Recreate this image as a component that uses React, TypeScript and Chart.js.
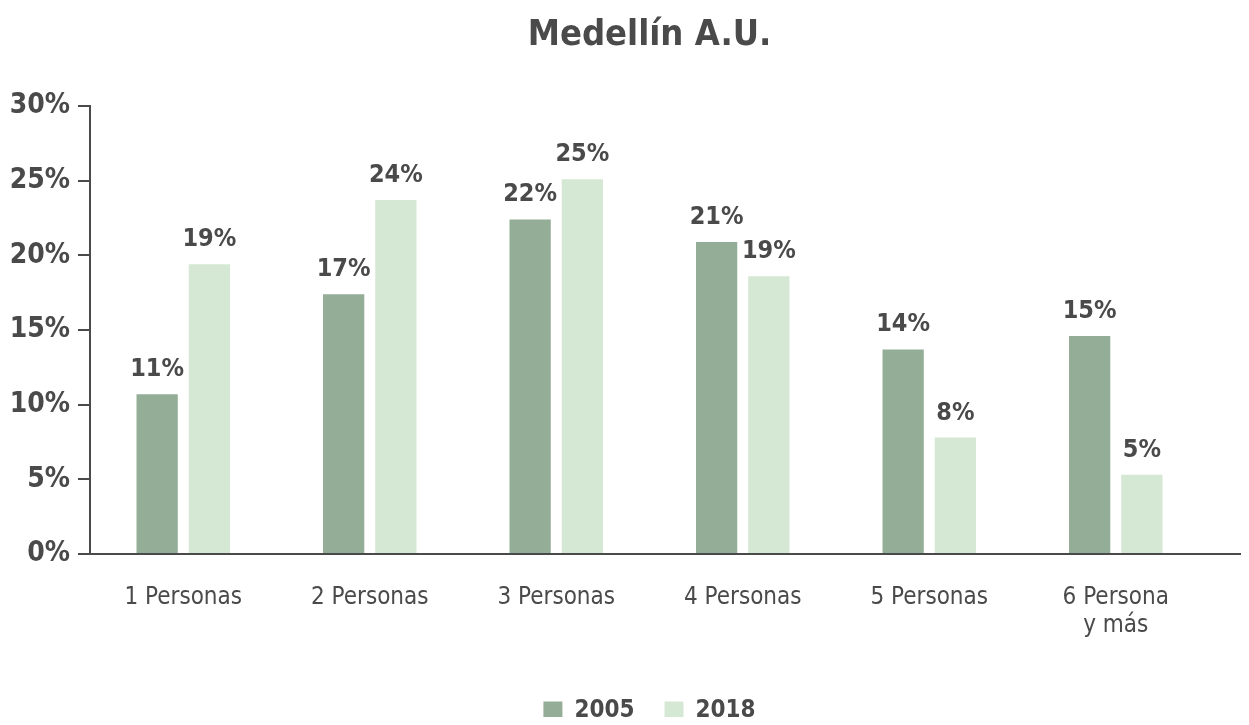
import React, { useEffect, useRef } from "react";
import { Chart, registerables } from "chart.js";

Chart.register(...registerables);

const categories: (string | string[])[] = [
  "1 Personas",
  "2 Personas",
  "3 Personas",
  "4 Personas",
  "5 Personas",
  ["6 Persona", "y más"],
];
const series2005 = [10.7, 17.4, 22.4, 20.9, 13.7, 14.6];
const series2018 = [19.4, 23.7, 25.1, 18.6, 7.8, 5.3];
const seriesNames = ["2005", "2018"];
const yTicks = [0, 5, 10, 15, 20, 25, 30];

const FONT = "'Liberation Sans Narrow', 'DejaVu Sans Condensed', 'Roboto', sans-serif";
const TEXT = "#4a4a4a";

const valueLabels = {
  id: "valueLabels",
  afterDatasetsDraw(chart: any) {
    const ctx = chart.ctx;
    ctx.save();
    ctx.font = `bold 25px ${FONT}`;
    ctx.fillStyle = TEXT;
    ctx.textAlign = "center";
    ctx.textBaseline = "alphabetic";
    chart.data.datasets.forEach((ds: any, i: number) => {
      const meta = chart.getDatasetMeta(i);
      meta.data.forEach((bar: any, j: number) => {
        ctx.fillText(Math.round(ds.data[j]) + "%", bar.x, bar.y - 18);
      });
    });
    ctx.restore();
  },
};

const baselineExtend = {
  id: "baselineExtend",
  afterDraw(chart: any) {
    const ctx = chart.ctx;
    const y = chart.scales.y.getPixelForValue(0);
    ctx.save();
    ctx.strokeStyle = TEXT;
    ctx.lineWidth = 2;
    ctx.beginPath();
    ctx.moveTo(chart.chartArea.left, y);
    ctx.lineTo(chart.width, y);
    ctx.stroke();
    ctx.restore();
  },
};

export default function App() {
  const ref = useRef<HTMLCanvasElement | null>(null);
  useEffect(() => {
    if (!ref.current) return;
    const chart = new Chart(ref.current, {
      type: "bar",
      data: {
        labels: categories,
        datasets: [
          {
            label: seriesNames[0],
            data: series2005,
            backgroundColor: "#94ad96",
            categoryPercentage: 0.56,
            barPercentage: 0.79,
          },
          {
            label: seriesNames[1],
            data: series2018,
            backgroundColor: "#d5e8d4",
            categoryPercentage: 0.56,
            barPercentage: 0.79,
          },
        ],
      },
      options: {
        animation: false,
        responsive: true,
        maintainAspectRatio: false,
        layout: { padding: { left: 0, right: 32, top: 0, bottom: -8 } },
        plugins: {
          title: {
            display: true,
            text: "Medellín A.U.",
            fullSize: false,
            color: TEXT,
            font: { family: FONT, size: 36, weight: "bold" },
            padding: { top: 6, bottom: 48.8 },
          },
          legend: {
            position: "bottom",
            fullSize: false,
            labels: {
              color: TEXT,
              font: { family: FONT, size: 24, weight: "bold" },
              boxWidth: 19,
              boxHeight: 19,
              padding: 30,
            },
          },
          tooltip: { enabled: false },
        },
        scales: {
          x: {
            afterFit: (axis: any) => {
              axis.height = 115;
            },
            grid: { display: false, drawTicks: false },
            border: { display: true, color: TEXT, width: 2 },
            ticks: {
              color: TEXT,
              font: { family: FONT, size: 24, lineHeight: 1.2 },
              padding: 29,
              maxRotation: 0,
              autoSkip: false,
            },
          },
          y: {
            min: 0,
            max: 30,
            afterFit: (axis: any) => {
              axis.width = 82;
            },
            afterBuildTicks: (axis: any) => {
              axis.ticks = yTicks.map((v) => ({ value: v }));
            },
            grid: {
              drawOnChartArea: false,
              drawTicks: true,
              tickLength: 12,
              color: TEXT,
              lineWidth: 2,
            },
            border: { display: true, color: TEXT, width: 2 },
            ticks: {
              color: TEXT,
              font: { family: FONT, size: 28, weight: "bold" },
              padding: 8,
              callback: (v: any) => v + "%",
            },
          },
        },
      },
      plugins: [valueLabels, baselineExtend],
    });
    return () => chart.destroy();
  }, []);
  return (
    <div style={{ width: "1233px", height: "717px", marginBottom: "-8px" }}>
      <canvas ref={ref} />
    </div>
  );
}
